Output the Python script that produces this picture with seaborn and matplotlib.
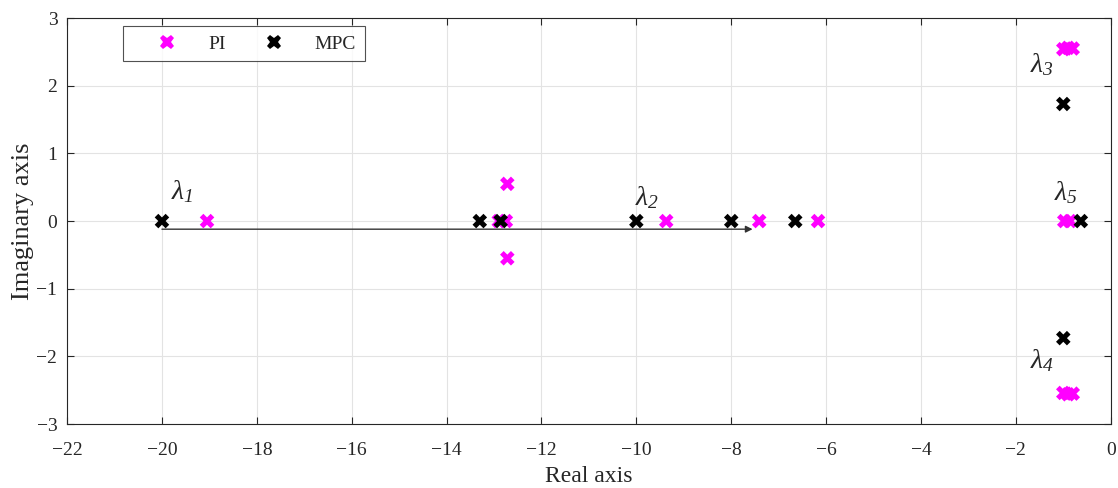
import numpy as np
import pandas as pd
import matplotlib
matplotlib.use("Agg")
import matplotlib.pyplot as plt
import seaborn as sns

# PI poles
pi_re = [-19.05, -12.9, -12.75, -12.72, -12.72, -9.37, -7.41, -6.17,
         -0.98, -0.86, -1.0, -0.9, -0.8, -1.0, -0.9, -0.8]
pi_im = [0.0, 0.0, 0.0, 0.55, -0.55, 0.0, 0.0, 0.0,
         0.0, 0.0, 2.54, 2.56, 2.55, -2.54, -2.56, -2.55]
# MPC poles
mpc_re = [-20.0, -13.3, -12.86, -10.0, -8.0, -6.65, -1.0, -1.0, -0.63]
mpc_im = [0.0, 0.0, 0.0, 0.0, 0.0, 0.0, 1.73, -1.73, 0.0]

labels = [r"$\lambda_1$", r"$\lambda_2$", r"$\lambda_3$",
          r"$\lambda_4$", r"$\lambda_5$"]
label_x = [-19.8, -10.02, -1.7, -1.7, -1.2]
label_y = [0.33, 0.23, 2.2, -2.18, 0.31]

arrow_start = (-20.0, -0.12)
arrow_end = (-7.55, -0.12)

sns.set_style("white")
plt.rcParams["font.family"] = ["Liberation Serif", "DejaVu Serif"]
plt.rcParams["mathtext.fontset"] = "custom"
plt.rcParams["mathtext.it"] = "Liberation Serif:italic"
plt.rcParams["mathtext.rm"] = "Liberation Serif:italic"

df = pd.DataFrame({
    "re": pi_re + mpc_re,
    "im": pi_im + mpc_im,
    "ctrl": ["PI"] * len(pi_re) + ["MPC"] * len(mpc_re),
})

fig = plt.figure(figsize=(11.18, 4.88), dpi=100)
ax = fig.add_axes([0.060, 0.131, 0.9335, 0.832])

ax.annotate("", xy=arrow_end, xytext=arrow_start,
            arrowprops=dict(arrowstyle="-|>", color="#333333", lw=1.0,
                            mutation_scale=10, shrinkA=0, shrinkB=0), zorder=1)

sns.scatterplot(data=df, x="re", y="im", hue="ctrl",
                palette={"PI": "#ff00ff", "MPC": "#000000"},
                marker="X", s=110, linewidth=0, ax=ax, zorder=3)

for t, x, y in zip(labels, label_x, label_y):
    ax.text(x, y, t, fontsize=20, ha="left", va="baseline")

ax.set_xlim(-22, 0)
ax.set_ylim(-3, 3)
ax.set_xticks(np.arange(-22, 1, 2))
ax.set_yticks(np.arange(-3, 4, 1))
ax.set_xticklabels([("\u2212" + str(abs(v))) if v < 0 else str(v) for v in range(-22, 1, 2)])
ax.set_yticklabels([("\u2212" + str(abs(v))) if v < 0 else str(v) for v in range(-3, 4, 1)])
ax.grid(True, color="#e3e3e3", lw=0.8)
ax.set_axisbelow(True)
ax.tick_params(direction="in", length=5, width=0.8, labelsize=14,
               top=True, right=True, bottom=True, left=True)
ax.tick_params(axis="x", pad=13)
ax.tick_params(axis="y", pad=7)
for sp in ax.spines.values():
    sp.set_color("#262626")
    sp.set_linewidth(0.8)
ax.set_xlabel("Real axis", fontsize=17, labelpad=5)
ax.set_ylabel("Imaginary axis", fontsize=19, labelpad=2)

handles, labs = ax.get_legend_handles_labels()
leg = ax.legend(handles, labs, loc="upper left", bbox_to_anchor=(0.054, 0.98),
                borderaxespad=0, ncol=2, frameon=True, fancybox=False,
                edgecolor="#262626", fontsize=14, columnspacing=0.67,
                handletextpad=0.3, borderpad=0.45, handlelength=3.6)
leg.get_frame().set_linewidth(0.8)

fig.savefig("out.png", dpi=100)
